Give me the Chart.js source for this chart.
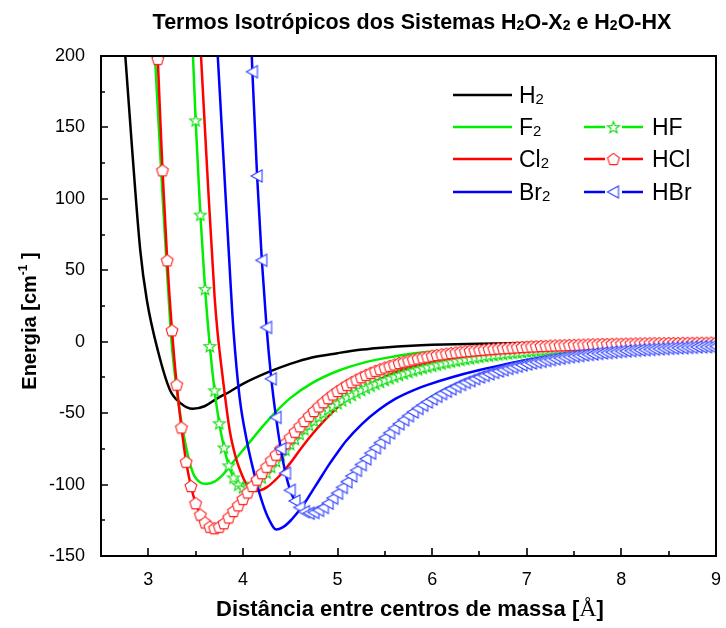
<!DOCTYPE html>
<html>
<head>
<meta charset="utf-8">
<script src="https://cdn.jsdelivr.net/npm/chart.js@4.4.1/dist/chart.umd.min.js"></script>
<style>
  html, body { margin: 0; padding: 0; background: #ffffff; }
  #c { display: block; }
</style>
</head>
<body>
<canvas id="c" width="726" height="628"></canvas>
<script>
// ---- axis ticks ----
const xTicks = [3, 4, 5, 6, 7, 8, 9];
const xMinorTicks = [3.5, 4.5, 5.5, 6.5, 7.5, 8.5];
const yTicks = [-150, -100, -50, 0, 50, 100, 150, 200];
const yMinorTicks = [-125, -75, -25, 25, 75, 125, 175];

// ---- H2O-X2 isotropic terms (solid lines) ----
const h2X = [2.757, 2.83, 2.915, 2.985, 3.10, 3.23, 3.34, 3.47, 3.60, 3.72, 3.86, 4.0, 4.28, 4.5, 4.73, 5.0, 5.26, 5.5, 5.78, 6.0, 6.5, 7.0, 7.5, 8.0, 8.5, 9.0];
const h2Y = [200, 134, 64, 29, -6, -34, -43, -47, -45, -40, -35, -29.5, -21, -15.5, -11, -8, -5.5, -4, -2.8, -2.2, -1.4, -0.9, -0.6, -0.4, -0.3, -0.2];

const f2X = [3.07, 3.153, 3.20, 3.248, 3.29, 3.335, 3.41, 3.47, 3.55, 3.62, 3.70, 3.76, 3.83, 3.90, 4.0, 4.1, 4.2, 4.35, 4.5, 4.73, 5.0, 5.26, 5.5, 5.78, 6.0, 6.5, 7.0, 7.5, 8.0, 8.5, 9.0];
const f2Y = [200, 99, 47, -2, -28, -50, -77, -91.5, -98.5, -99.5, -98, -95, -90, -84, -76, -68, -60, -49, -39.5, -29, -20.5, -15, -11.5, -8.5, -7, -4.5, -3, -2, -1.3, -0.9, -0.6];

const cl2X = [3.557, 3.624, 3.70, 3.73, 3.79, 3.86, 3.92, 3.97, 4.04, 4.14, 4.25, 4.385, 4.50, 4.60, 4.73, 4.85, 5.0, 5.13, 5.26, 5.44, 5.61, 5.80, 5.96, 6.2, 6.49, 7.0, 7.5, 8.0, 8.5, 9.0];
const cl2Y = [200, 118, 32, 8, -27, -62, -80, -90, -100, -104.5, -102, -94, -85, -76, -65, -56, -46, -39, -33, -26.5, -21.5, -17.5, -15, -11.5, -8.8, -5.6, -3.8, -2.6, -1.8, -1.3];

const br2X = [3.734, 3.80, 3.87, 3.90, 3.965, 4.04, 4.12, 4.21, 4.28, 4.35, 4.42, 4.50, 4.56, 4.63, 4.70, 4.80, 4.91, 5.0, 5.09, 5.26, 5.44, 5.61, 5.80, 5.96, 6.2, 6.49, 7.0, 7.5, 8.0, 8.5, 9.0];
const br2Y = [200, 122, 40, 8, -39, -69, -92.5, -113.5, -125, -131.5, -130, -125.5, -121, -115, -108, -97.5, -86, -77.5, -69.5, -57.5, -47.5, -40, -34, -30, -25, -20, -12.7, -8.4, -5.7, -4.0, -2.8];

// ---- H2O-HX isotropic terms (lines with markers) ----
const hfX = [3.45, 3.50, 3.55, 3.60, 3.65, 3.70, 3.75, 3.80, 3.85, 3.90, 3.95, 4.00, 4.05, 4.10, 4.15, 4.20, 4.25, 4.30, 4.35, 4.40, 4.45, 4.50, 4.55, 4.60, 4.65, 4.70, 4.75, 4.80, 4.85, 4.90, 4.95, 5.00, 5.05, 5.10, 5.15, 5.20, 5.25, 5.30, 5.35, 5.40, 5.45, 5.50, 5.55, 5.60, 5.65, 5.70, 5.75, 5.80, 5.85, 5.90, 5.95, 6.00, 6.05, 6.10, 6.15, 6.20, 6.25, 6.30, 6.35, 6.40, 6.45, 6.50, 6.55, 6.60, 6.65, 6.70, 6.75, 6.80, 6.85, 6.90, 6.95, 7.00, 7.05, 7.10, 7.15, 7.20, 7.25, 7.30, 7.35, 7.40, 7.45, 7.50, 7.55, 7.60, 7.65, 7.70, 7.75, 7.80, 7.85, 7.90, 7.95, 8.00, 8.05, 8.10, 8.15, 8.20, 8.25, 8.30, 8.35, 8.40, 8.45, 8.50, 8.55, 8.60, 8.65, 8.70, 8.75, 8.80, 8.85, 8.90, 8.95, 9.00];
const hfY = [237, 155, 89, 37, -3, -34, -57, -74, -86.5, -95, -100, -102, -102, -100.5, -98, -95, -91.5, -87.5, -83.5, -79.5, -75.5, -71.5, -68, -64.5, -61.2, -58.1, -55.2, -52.4, -49.8, -47.3, -45.0, -43.0, -41.0, -39.0, -37.2, -35.5, -33.8, -32.2, -30.7, -29.3, -28.0, -26.7, -25.5, -24.3, -23.2, -22.1, -21.1, -20.1, -19.2, -18.3, -17.5, -16.7, -15.9, -15.2, -14.5, -13.8, -13.2, -12.6, -12.0, -11.5, -11.0, -10.5, -10.0, -9.6, -9.2, -8.8, -8.4, -8.0, -7.7, -7.4, -7.1, -6.8, -6.5, -6.2, -6.0, -5.7, -5.5, -5.3, -5.1, -4.9, -4.7, -4.5, -4.3, -4.2, -4.0, -3.9, -3.7, -3.6, -3.5, -3.3, -3.2, -3.1, -3.0, -2.9, -2.8, -2.7, -2.6, -2.5, -2.4, -2.3, -2.3, -2.2, -2.1, -2.0, -2.0, -1.9, -1.8, -1.8, -1.7, -1.7, -1.6, -1.6];

const hclX = [3.10, 3.15, 3.20, 3.25, 3.30, 3.35, 3.40, 3.45, 3.50, 3.55, 3.60, 3.65, 3.70, 3.75, 3.80, 3.85, 3.90, 3.95, 4.00, 4.05, 4.10, 4.15, 4.20, 4.25, 4.30, 4.35, 4.40, 4.45, 4.50, 4.55, 4.60, 4.65, 4.70, 4.75, 4.80, 4.85, 4.90, 4.95, 5.00, 5.05, 5.10, 5.15, 5.20, 5.25, 5.30, 5.35, 5.40, 5.45, 5.50, 5.55, 5.60, 5.65, 5.70, 5.75, 5.80, 5.85, 5.90, 5.95, 6.00, 6.05, 6.10, 6.15, 6.20, 6.25, 6.30, 6.35, 6.40, 6.45, 6.50, 6.55, 6.60, 6.65, 6.70, 6.75, 6.80, 6.85, 6.90, 6.95, 7.00, 7.05, 7.10, 7.15, 7.20, 7.25, 7.30, 7.35, 7.40, 7.45, 7.50, 7.55, 7.60, 7.65, 7.70, 7.75, 7.80, 7.85, 7.90, 7.95, 8.00, 8.05, 8.10, 8.15, 8.20, 8.25, 8.30, 8.35, 8.40, 8.45, 8.50, 8.55, 8.60, 8.65, 8.70, 8.75, 8.80, 8.85, 8.90, 8.95, 9.00];
const hclY = [198, 120, 57, 8, -30, -60, -84, -101, -113, -121, -126.5, -129.5, -130.5, -129.5, -127, -123, -118.5, -114.5, -110, -105.5, -101, -96.5, -92, -87.5, -83, -79, -75, -71, -67, -63, -59.2, -55.5, -51.9, -48.5, -45.3, -42.3, -39.5, -36.9, -34.5, -32.3, -30.2, -28.3, -26.5, -24.8, -23.2, -21.8, -20.4, -19.2, -18.0, -16.9, -15.9, -14.9, -14.0, -13.2, -12.4, -11.7, -11.0, -10.4, -9.8, -9.3, -8.8, -8.3, -7.9, -7.5, -7.1, -6.7, -6.4, -6.1, -5.8, -5.5, -5.2, -5.0, -4.7, -4.5, -4.3, -4.1, -3.9, -3.7, -3.5, -3.3, -3.2, -3.0, -2.9, -2.7, -2.6, -2.5, -2.4, -2.3, -2.2, -2.1, -2.0, -1.9, -1.8, -1.7, -1.6, -1.6, -1.5, -1.4, -1.4, -1.3, -1.3, -1.2, -1.2, -1.1, -1.1, -1.0, -1.0, -1.0, -0.9, -0.9, -0.9, -0.8, -0.8, -0.8, -0.7, -0.7, -0.7, -0.6, -0.6];

const hbrX = [4.05, 4.10, 4.15, 4.20, 4.25, 4.30, 4.35, 4.40, 4.45, 4.50, 4.55, 4.60, 4.65, 4.70, 4.75, 4.80, 4.85, 4.90, 4.95, 5.00, 5.05, 5.10, 5.15, 5.20, 5.25, 5.30, 5.35, 5.40, 5.45, 5.50, 5.55, 5.60, 5.65, 5.70, 5.75, 5.80, 5.85, 5.90, 5.95, 6.00, 6.05, 6.10, 6.15, 6.20, 6.25, 6.30, 6.35, 6.40, 6.45, 6.50, 6.55, 6.60, 6.65, 6.70, 6.75, 6.80, 6.85, 6.90, 6.95, 7.00, 7.05, 7.10, 7.15, 7.20, 7.25, 7.30, 7.35, 7.40, 7.45, 7.50, 7.55, 7.60, 7.65, 7.70, 7.75, 7.80, 7.85, 7.90, 7.95, 8.00, 8.05, 8.10, 8.15, 8.20, 8.25, 8.30, 8.35, 8.40, 8.45, 8.50, 8.55, 8.60, 8.65, 8.70, 8.75, 8.80, 8.85, 8.90, 8.95, 9.00];
const hbrY = [277, 189, 116, 57, 10, -26, -53, -75, -92, -104, -111.5, -116, -119, -120, -119.5, -118, -116, -113, -109.5, -106, -102, -98, -94, -90, -86, -82, -78, -74.3, -70.7, -67.2, -63.8, -60.6, -57.5, -54.6, -51.8, -49.2, -46.7, -44.4, -42.2, -40.1, -38.2, -36.3, -34.6, -33.0, -31.4, -29.9, -28.5, -27.2, -25.9, -24.7, -23.6, -22.5, -21.5, -20.5, -19.6, -18.7, -17.9, -17.1, -16.3, -15.6, -14.9, -14.3, -13.7, -13.1, -12.5, -12.0, -11.5, -11.0, -10.5, -10.1, -9.7, -9.3, -8.9, -8.6, -8.2, -7.9, -7.6, -7.3, -7.0, -6.7, -6.5, -6.2, -6.0, -5.8, -5.6, -5.4, -5.2, -5.0, -4.8, -4.6, -4.5, -4.3, -4.2, -4.0, -3.9, -3.7, -3.6, -3.5, -3.4, -3.3];

// ---- styling ----
const SANS = '"Liberation Sans", Arial, Helvetica, sans-serif';
const SERIF = '"Liberation Serif", "Times New Roman", serif';
const BLACK = '#000000', GREEN = '#00ee00', RED = '#ff0000', BLUE = '#0000ff';

// open markers with white fill, drawn onto small canvases
function makeMarker(kind, stroke) {
  const s = 18, c = document.createElement('canvas');
  c.width = s; c.height = s;
  const g = c.getContext('2d');
  const cx = s / 2, cy = s / 2;
  g.beginPath();
  if (kind === 'pentagon') {
    for (let k = 0; k < 5; k++) {
      const a = -Math.PI / 2 + k * 2 * Math.PI / 5;
      const px = cx + 6.2 * Math.cos(a), py = cy + 6.2 * Math.sin(a) + 0.6;
      k ? g.lineTo(px, py) : g.moveTo(px, py);
    }
  } else if (kind === 'star') {
    for (let k = 0; k < 10; k++) {
      const a = -Math.PI / 2 + k * Math.PI / 5;
      const r = k % 2 ? 2.6 : 6.2;
      const px = cx + r * Math.cos(a), py = cy + r * Math.sin(a) + 0.7;
      k ? g.lineTo(px, py) : g.moveTo(px, py);
    }
  } else {
    g.moveTo(cx - 6, cy);
    g.lineTo(cx + 5, cy - 6);
    g.lineTo(cx + 5, cy + 6);
  }
  g.closePath();
  g.fillStyle = '#ffffff';
  g.fill();
  g.lineWidth = 1.1;
  g.strokeStyle = stroke;
  g.stroke();
  return c;
}
const starMark = makeMarker('star', '#11dd11');
const pentMark = makeMarker('pentagon', '#ff2222');
const triMark = makeMarker('triangle', '#3344ff');

function pts(xs, ys) { return xs.map((x, i) => ({ x: x, y: ys[i] })); }

function lineSet(data, color, order) {
  return { data: data, borderColor: color, borderWidth: 2.5, pointRadius: 0,
           cubicInterpolationMode: 'monotone', clip: 0, order: order, fill: false };
}
function markSet(data, color, marker, order) {
  return { data: data, borderColor: color, borderWidth: 2.5, pointRadius: 5,
           pointStyle: marker, cubicInterpolationMode: 'monotone', clip: 0, order: order, fill: false };
}

const datasets = [
  lineSet(pts(h2X, h2Y), BLACK, 7),
  lineSet(pts(f2X, f2Y), GREEN, 6),
  lineSet(pts(cl2X, cl2Y), RED, 5),
  lineSet(pts(br2X, br2Y), BLUE, 4),
  markSet(pts(hfX, hfY), GREEN, starMark, 3),
  markSet(pts(hclX, hclY), RED, pentMark, 2),
  markSet(pts(hbrX, hbrY), BLUE, triMark, 1)
];

// text made of runs with their own font and vertical shift
function richText(g, runs, x, y, align) {
  let total = 0;
  runs.forEach(r => { g.font = r.font; r.w = g.measureText(r.t).width; total += r.w; });
  let cur = align === 'center' ? x - total / 2 : x;
  g.textAlign = 'left';
  g.textBaseline = 'alphabetic';
  runs.forEach(r => { g.font = r.font; g.fillText(r.t, cur, y + (r.dy || 0)); cur += r.w; });
}

const legendLeft = [
  { y: 95, color: BLACK, name: 'H' },
  { y: 127, color: GREEN, name: 'F' },
  { y: 159, color: RED, name: 'Cl' },
  { y: 192, color: BLUE, name: 'Br' }
];
const legendRight = [
  { y: 127, color: GREEN, mark: starMark, name: 'HF' },
  { y: 159, color: RED, mark: pentMark, name: 'HCl' },
  { y: 192, color: BLUE, mark: triMark, name: 'HBr' }
];

const decorations = {
  id: 'decorations',
  afterDraw(chart) {
    const g = chart.ctx;
    const a = chart.chartArea;
    const xs = chart.scales.x, ys = chart.scales.y;
    g.save();
    g.strokeStyle = BLACK;
    g.fillStyle = BLACK;

    // inward tick marks
    g.lineWidth = 1.6;
    g.beginPath();
    xTicks.forEach(v => { const p = Math.round(xs.getPixelForValue(v)); g.moveTo(p, a.bottom); g.lineTo(p, a.bottom - 8); });
    xMinorTicks.forEach(v => { const p = Math.round(xs.getPixelForValue(v)); g.moveTo(p, a.bottom); g.lineTo(p, a.bottom - 5); });
    yTicks.forEach(v => { const p = Math.round(ys.getPixelForValue(v)); g.moveTo(a.left, p); g.lineTo(a.left + 7, p); });
    yMinorTicks.forEach(v => { const p = Math.round(ys.getPixelForValue(v)); g.moveTo(a.left, p); g.lineTo(a.left + 4, p); });
    g.stroke();

    // frame
    g.lineWidth = 2;
    g.strokeRect(a.left, a.top, a.right - a.left, a.bottom - a.top);

    // title
    const tb = 'bold 21.5px ' + SANS, ts = 'bold 14px ' + SANS;
    richText(g, [
      { t: 'Termos Isotrópicos dos Sistemas H', font: tb },
      { t: '2', font: ts, dy: 1 },
      { t: 'O-X', font: tb },
      { t: '2', font: ts, dy: 1 },
      { t: ' e H', font: tb },
      { t: '2', font: ts, dy: 1 },
      { t: 'O-HX', font: tb }
    ], 412, 29, 'center');

    // x axis title
    richText(g, [
      { t: 'Distância entre centros de massa [', font: 'bold 22px ' + SANS },
      { t: 'Å', font: '24px ' + SERIF },
      { t: ']', font: 'bold 22px ' + SANS }
    ], 410, 616, 'center');

    // y axis title
    g.save();
    g.translate(36, 321);
    g.rotate(-Math.PI / 2);
    richText(g, [
      { t: 'Energia [cm', font: 'bold 20px ' + SANS },
      { t: '-1', font: 'bold 12px ' + SANS, dy: -9 },
      { t: ' ]', font: 'bold 20px ' + SANS }
    ], 0, 0, 'center');
    g.restore();

    // legend
    const lf = '23px ' + SANS, sf = '15px ' + SANS;
    g.lineWidth = 2.5;
    legendLeft.forEach(r => {
      g.strokeStyle = r.color;
      g.beginPath(); g.moveTo(453, r.y); g.lineTo(512, r.y); g.stroke();
      g.fillStyle = BLACK;
      richText(g, [{ t: r.name, font: lf }, { t: '2', font: sf, dy: 1 }], 519, r.y + 8, 'left');
    });
    legendRight.forEach(r => {
      g.strokeStyle = r.color;
      g.beginPath();
      g.moveTo(584, r.y); g.lineTo(605, r.y);
      g.moveTo(622, r.y); g.lineTo(643, r.y);
      g.stroke();
      g.drawImage(r.mark, 613.5 - r.mark.width / 2, r.y - r.mark.height / 2);
      g.fillStyle = BLACK;
      richText(g, [{ t: r.name, font: lf }], 652, r.y + 8, 'left');
    });
    g.restore();
  }
};

new Chart(document.getElementById('c').getContext('2d'), {
  type: 'line',
  data: { datasets: datasets },
  options: {
    responsive: false,
    animation: false,
    devicePixelRatio: 1,
    layout: { padding: { top: 56, right: 8, bottom: 0, left: 0 } },
    plugins: { legend: { display: false }, title: { display: false }, tooltip: { enabled: false } },
    scales: {
      x: {
        type: 'linear', min: 2.5, max: 9,
        afterBuildTicks: s => { s.ticks = xTicks.map(v => ({ value: v })); },
        afterFit: s => { s.height = 72; },
        grid: { display: false }, border: { display: false },
        ticks: { padding: 5, color: BLACK, maxRotation: 0, autoSkip: false, font: { family: SANS, size: 18 } }
      },
      y: {
        type: 'linear', min: -150, max: 200,
        afterBuildTicks: s => { s.ticks = yTicks.map(v => ({ value: v })); },
        afterFit: s => { s.width = 101; },
        grid: { display: false }, border: { display: false },
        ticks: { padding: 8, color: BLACK, autoSkip: false, font: { family: SANS, size: 18 } }
      }
    }
  },
  plugins: [decorations]
});
</script>
</body>
</html>
